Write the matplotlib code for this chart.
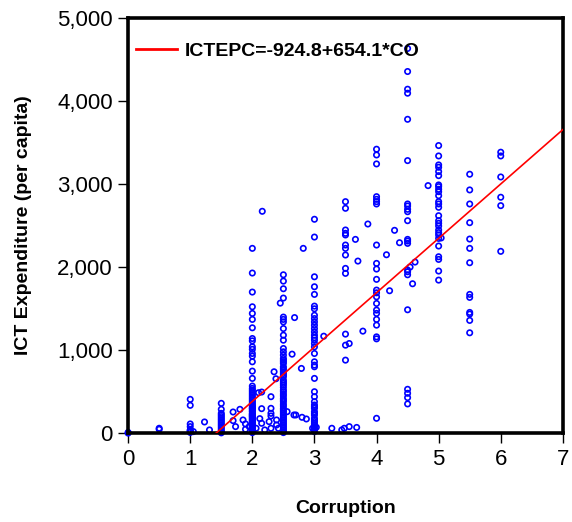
import numpy as np
import matplotlib.pyplot as plt
from matplotlib.ticker import FuncFormatter

plt.rcParams['font.family'] = ['Liberation Sans', 'DejaVu Sans']

# Regression shown in the legend
intercept = -924.8
slope = 654.1

# Vertical stacks of observations at the common corruption scores
co_0 = [0, 0]
ict_0 = [10, 2]
co_05 = [0.5, 0.5]
ict_05 = [48, 60]
co_1 = [1.0] * 8
ict_1 = [408, 336, 112, 80, 40, 32, 20, 10]
ict_15 = [360, 288, 240, 220, 200, 180, 160, 140, 120, 100, 80, 60, 40, 20, 5]
ict_2 = [2225, 1928, 1699, 1522, 1442, 1370, 1269, 1140, 1112, 1040, 1010, 960,
         928, 860, 748, 660, 568, 540, 520, 500, 480, 460, 440, 420, 400, 380,
         360, 340, 328, 310, 300, 290, 272, 260, 240, 230, 220, 210, 200, 190,
         176, 165, 152, 140, 130, 120, 100, 88, 75, 60, 45, 32, 20, 8]
ict_25 = [1907, 1831, 1739, 1627, 1398, 1370, 1340, 1260, 1180, 1120, 1020, 980,
          940, 900, 880, 860, 840, 800, 780, 760, 740, 720, 700, 680, 640, 620,
          600, 580, 552, 520, 500, 472, 450, 420, 400, 380, 350, 328, 300, 280,
          260, 240, 220, 200, 180, 160, 140, 120, 100, 80, 60, 40, 20, 8]
ict_3 = [2575, 2361, 1883, 1763, 1671, 1530, 1498, 1420, 1380, 1340, 1300, 1260,
         1220, 1180, 1150, 1120, 1080, 1040, 960, 860, 820, 800, 660, 500, 440,
         380, 340, 320, 300, 260, 240, 220, 180, 160, 140, 120, 100, 80, 60, 40, 20]
ict_35 = [2787, 2707, 2446, 2406, 2386, 2265, 2225, 2145, 1984, 1924, 1193, 1060, 880]
ict_4 = [3418, 3349, 3241, 2847, 2815, 2787, 2759, 2265, 2044, 1976, 1852, 1723,
         1690, 1642, 1562, 1482, 1442, 1370, 1301, 1160, 1136, 180]
ict_45 = [4630, 4353, 4140, 4092, 3778, 3281, 2759, 2735, 2695, 2666, 2558, 2333,
          2313, 2285, 1964, 1943, 1907, 1486, 529, 481, 429, 353]
ict_5 = [3462, 3337, 3229, 3201, 3149, 3100, 2988, 2968, 2936, 2907, 2859, 2787,
         2759, 2719, 2618, 2558, 2526, 2494, 2446, 2414, 2386, 2345, 2253, 2124,
         2092, 1952, 1843]
ict_55 = [3117, 2928, 2759, 2534, 2337, 2225, 2052, 1671, 1635, 1454, 1434, 1358, 1209]
ict_6 = [3382, 3337, 3084, 2840, 2739, 2189]

# Scattered observations between the common scores
co_other = [1.05, 1.23, 1.31, 1.69, 1.69, 1.73, 1.80, 1.85, 1.89, 1.89, 1.95,
            2.06, 2.10, 2.15, 2.15, 2.12, 2.15, 2.20, 2.16, 2.30, 2.30, 2.30,
            2.30, 2.27, 2.30, 2.35, 2.38, 2.45, 2.39, 2.39, 2.42, 2.56, 2.64,
            2.68, 2.67, 2.70, 2.79, 2.80, 2.82, 2.87, 2.97, 3.03, 3.15, 3.28,
            3.44, 3.48, 3.56, 3.56, 3.66, 3.70, 3.68, 3.78, 3.86, 4.16, 4.21,
            4.29, 4.37, 4.54, 4.58, 4.62, 4.83, 5.04]
ict_other = [20, 136, 40, 256, 152, 80, 288, 160, 112, 48, 80,
             60, 488, 496, 296, 176, 120, 40, 2671, 440, 300, 240,
             208, 140, 60, 740, 656, 1566, 160, 100, 60, 260, 952,
             1392, 220, 220, 780, 192, 2225, 172, 60, 72, 1168, 60,
             40, 60, 80, 1080, 2333, 2072, 70, 1229, 2518, 2148, 1715,
             2442, 2293, 2000, 1799, 2060, 2980, 2350]

stacks = [(1.5, ict_15), (2.0, ict_2), (2.5, ict_25), (3.0, ict_3), (3.5, ict_35),
          (4.0, ict_4), (4.5, ict_45), (5.0, ict_5), (5.5, ict_55), (6.0, ict_6)]

co = list(co_0) + list(co_05) + list(co_1) + list(co_other)
ict = list(ict_0) + list(ict_05) + list(ict_1) + list(ict_other)
for xv, ys in stacks:
    co += [xv] * len(ys)
    ict += ys

fig = plt.figure(figsize=(5.72, 5.22), dpi=100)
ax = fig.add_axes([0.224, 0.170, 0.760, 0.796])

ax.scatter(co, ict, s=15, facecolors='none', edgecolors='#0000ff',
           linewidths=1.2, zorder=2, clip_on=False)

x0 = -intercept / slope
fit_x = np.array([x0, 7.0])
ax.plot(fit_x, intercept + slope * fit_x, color='#ff0000', lw=1.2, zorder=3,
        label='ICTEPC=-924.8+654.1*CO')

ax.set_xlim(0, 7)
ax.set_ylim(0, 5000)
ax.set_xticks(range(8))
ax.set_yticks(range(0, 5001, 1000))
ax.yaxis.set_major_formatter(FuncFormatter(lambda v, p: f'{int(v):,}'))

for s in ax.spines.values():
    s.set_linewidth(2.6)
ax.tick_params(direction='out', length=7, width=1, labelsize=16, pad=4)

ax.set_xlabel('Corruption', fontsize=14, fontweight='bold', labelpad=22)
ax.set_ylabel('ICT Expenditure (per capita)', fontsize=14, fontweight='bold', labelpad=18)

leg = ax.legend(loc='upper left', frameon=False, handlelength=2.1,
                handletextpad=0.4, borderaxespad=0.0,
                bbox_to_anchor=(0.0, 0.96),
                prop={'weight': 'bold', 'size': 14})
for h in leg.get_lines():
    h.set_linewidth(2)

fig.savefig('out.png', dpi=100)
